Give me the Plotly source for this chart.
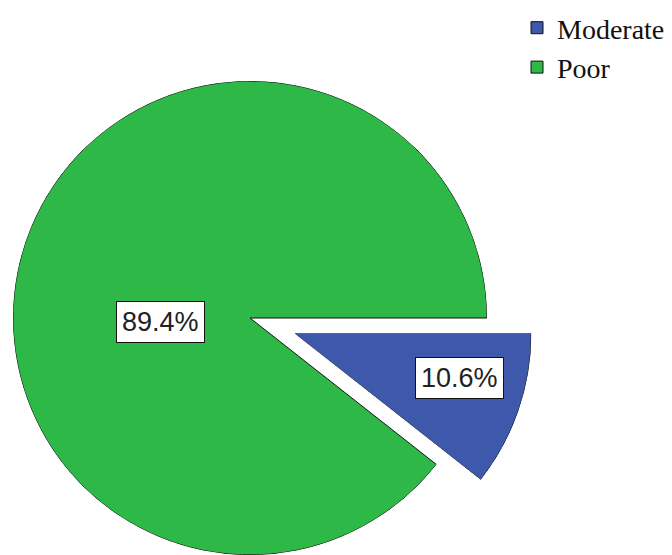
import math
import plotly.graph_objects as go

# ---- data ----
categories = ["Moderate", "Poor"]
percents = [10.6, 89.4]
slice_colors = ["#3E58AC", "#2EB848"]
label_texts = ["10.6%", "89.4%"]

# ---- layout geometry (pixels) ----
W, H = 672, 555
CX, CY, R = 250, 318, 237          # centre / radius of the main pie
EXPLODE = 47                        # pull-out distance of the first slice

total = sum(percents)
spans = [p / total * 360 for p in percents]
blue_mid = -spans[0] / 2            # slice 0 sits just below 3 o'clock
green_mid = spans[1] / 2

# apex of exploded slice
ax = CX + EXPLODE * math.cos(math.radians(-blue_mid))
ay = CY + EXPLODE * math.sin(math.radians(-blue_mid))

def clamp(v):
    return max(0.0, min(1.0, v))

dom_main = dict(x=[clamp((CX - R) / W), clamp((CX + R) / W)],
                y=[clamp(1 - (CY + R) / H), clamp(1 - (CY - R) / H)])
sin_span = math.sin(math.radians(spans[0]))
dom_exp = dict(x=[clamp(ax / W), clamp((ax + R) / W)],
               y=[clamp(1 - (ay + R * sin_span) / H), clamp(1 - ay / H)])

fig = go.Figure()
fig.add_trace(go.Barpolar(
    r=[1], theta=[blue_mid], width=[spans[0]], name=categories[0],
    marker=dict(color=slice_colors[0], line=dict(color="#111111", width=1)),
    subplot="polar2", hoverinfo="name"))
fig.add_trace(go.Barpolar(
    r=[1], theta=[green_mid], width=[spans[1]], name=categories[1],
    marker=dict(color=slice_colors[1], line=dict(color="#111111", width=1)),
    subplot="polar", hoverinfo="name"))

hidden_axis = dict(visible=False, showgrid=False, showline=False,
                   showticklabels=False, ticks="")
fig.update_layout(
    width=W, height=H,
    margin=dict(l=0, r=0, t=0, b=0, autoexpand=False),
    paper_bgcolor="white",
    template="none",
    polar=dict(domain=dom_main, bgcolor="rgba(0,0,0,0)",
               radialaxis=dict(range=[0, 1], **hidden_axis),
               angularaxis=hidden_axis),
    polar2=dict(domain=dom_exp, sector=[-spans[0], 0], bgcolor="rgba(0,0,0,0)",
                radialaxis=dict(range=[0, 1], **hidden_axis),
                angularaxis=hidden_axis),
    legend=dict(x=517 / W, xanchor="left", y=1 - 3 / H, yanchor="top",
                font=dict(family="Liberation Serif", size=28, color="#111111"),
                bgcolor="rgba(0,0,0,0)", itemclick=False, itemdoubleclick=False),
    showlegend=True,
)

# percentage labels
label_pos = [(459.5 / W, 1 - 378 / H), (160.5 / W, 1 - 321.5 / H)]
for txt, (lx, ly) in zip(label_texts, label_pos):
    fig.add_annotation(x=lx, y=ly, xref="paper", yref="paper",
                       xanchor="center", yanchor="middle", text=txt,
                       showarrow=False,
                       font=dict(family="Liberation Sans", size=27, color="#222222"),
                       bgcolor="white", bordercolor="#111111", borderwidth=1,
                       borderpad=5)

fig.write_html("out.html")
